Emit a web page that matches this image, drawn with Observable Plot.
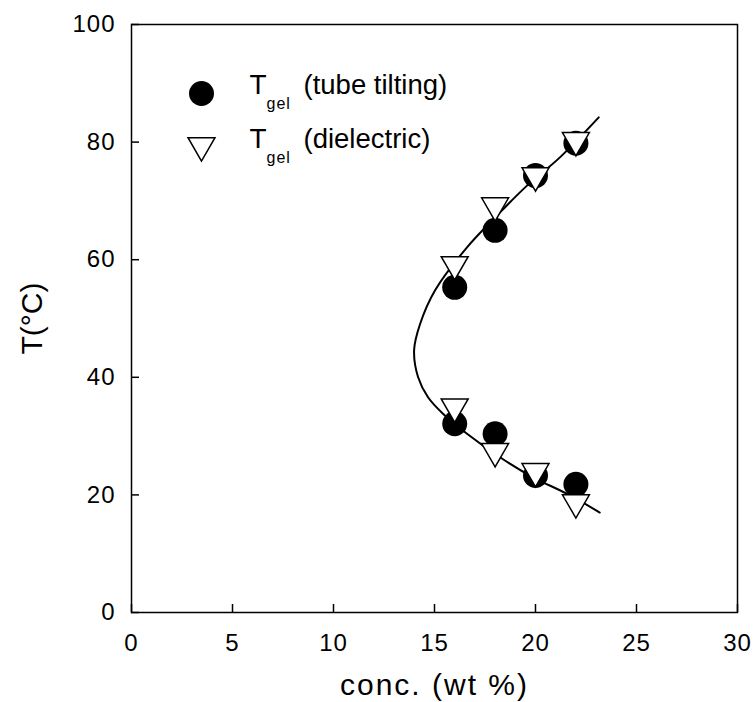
<!DOCTYPE html>
<html>
<head>
<meta charset="utf-8">
<script src="https://cdn.jsdelivr.net/npm/d3@7"></script>
<script src="https://cdn.jsdelivr.net/npm/@observablehq/plot@0.6"></script>
<style>
  html, body { margin: 0; padding: 0; background: white; }
  #chart { width: 756px; height: 702px; }
</style>
</head>
<body>
<div id="chart"></div>
<script>
// concentrations (wt %)
const conc = [16, 18, 20, 22];
// T_gel by tube tilting (upper and lower branches)
const tiltUpper = [55.3, 65.0, 74.3, 79.8];
const tiltLower = [32.1, 30.4, 23.3, 21.8];
// T_gel by dielectric measurement
const dielUpper = [59.2, 69.2, 74.3, 80.3];
const dielLower = [35.0, 27.4, 24.0, 18.7];
// fitted boundary curve
const fitConc = [23.13, 21.21, 19.58, 18.09, 16.61, 15.03, 14.29, 13.99, 14.19, 14.68, 15.42, 16.61, 18.24, 19.87, 21.55, 23.18];
const fitT    = [84.2, 77.4, 72.6, 67.5, 62.1, 54.8, 49.1, 44.6, 40.0, 36.6, 33.8, 30.4, 26.4, 23.0, 20.2, 17.0];
// ticks and labels
const xTicks = [0, 5, 10, 15, 20, 25, 30];
const yTicks = [0, 20, 40, 60, 80, 100];
const xLabel = "conc. (wt %)";
const yLabel = "T(°C)";
const legendSymbol = "T";
const legendSub = "gel";
const legendNames = ["(tube tilting)", "(dielectric)"];

const tilt = conc.flatMap((c, i) => [{c, t: tiltUpper[i]}, {c, t: tiltLower[i]}]);
const diel = conc.flatMap((c, i) => [{c, t: dielUpper[i]}, {c, t: dielLower[i]}]);
const fit = fitConc.map((c, i) => ({c, t: fitT[i]}));

const font = "Liberation Sans, Arial, Helvetica, sans-serif";
const rowY = [69, 123]; // legend row baselines, px below the frame top

const legendRow = (i) => [
  Plot.text([legendSymbol], {frameAnchor: "top-left", dx: 118, dy: rowY[i], text: d => d, textAnchor: "start", lineAnchor: "bottom", fontSize: 28}),
  Plot.text([legendSub], {frameAnchor: "top-left", dx: 135, dy: rowY[i] + 15, text: d => d, textAnchor: "start", lineAnchor: "bottom", fontSize: 16}),
  Plot.text([legendNames[i]], {frameAnchor: "top-left", dx: 172, dy: rowY[i], text: d => d, textAnchor: "start", lineAnchor: "bottom", fontSize: 27.5})
];

const chart = Plot.plot({
  width: 756,
  height: 702,
  marginLeft: 131,
  marginRight: 19,
  marginTop: 24,
  marginBottom: 90,
  style: {fontFamily: font, fontSize: "24px", color: "black", background: "white", overflow: "visible"},
  x: {domain: [0, 30]},
  y: {domain: [0, 100]},
  marks: [
    Plot.frame({stroke: "black", strokeWidth: 1.5}),
    // inward ticks
    Plot.axisX(xTicks, {tickSize: 8, dy: -8, fill: "none", label: null, strokeWidth: 1.5}),
    Plot.axisY(yTicks, {tickSize: 8, dx: 8, fill: "none", label: null, strokeWidth: 1.5}),
    // tick labels
    Plot.axisX(xTicks, {tickSize: 0, tickPadding: 21, label: null, fontSize: 24}),
    Plot.axisY(yTicks, {tickSize: 0, tickPadding: 16, label: null, fontSize: 24}),
    // axis titles
    Plot.text([xLabel], {frameAnchor: "bottom", dy: 73, lineAnchor: "middle", textAnchor: "middle", fontSize: 30, text: d => d}),
    Plot.text([yLabel], {frameAnchor: "left", dx: -99, rotate: -90, lineAnchor: "middle", textAnchor: "middle", fontSize: 30, text: d => d}),
    // fitted curve
    Plot.line(fit, {x: "c", y: "t", curve: "catmull-rom", stroke: "black", strokeWidth: 2}),
    // data
    Plot.dot(tilt, {x: "c", y: "t", r: 12.5, fill: "black", stroke: "none"}),
    Plot.dot(diel, {x: "c", y: "t", r: 10, symbol: "triangle", rotate: 180, fill: "white", stroke: "black", strokeWidth: 1.5}),
    // legend
    Plot.dot([0], {frameAnchor: "top-left", dx: 70, dy: 69, r: 12.5, fill: "black", stroke: "none"}),
    Plot.dot([0], {frameAnchor: "top-left", dx: 70, dy: 121, r: 10, symbol: "triangle", rotate: 180, fill: "white", stroke: "black", strokeWidth: 1.5}),
    ...legendRow(0),
    ...legendRow(1)
  ]
});
// the reference typeface is slightly wider: widen via letter spacing
d3.select(chart).selectAll("text").each(function () {
  const t = this.textContent;
  if (t === xLabel) this.setAttribute("letter-spacing", "2px");
  else if (t === legendSub) this.setAttribute("letter-spacing", "1px");
  else if (/^\d+$/.test(t)) this.setAttribute("letter-spacing", "1px");
});
document.getElementById("chart").appendChild(chart);
</script>
</body>
</html>
